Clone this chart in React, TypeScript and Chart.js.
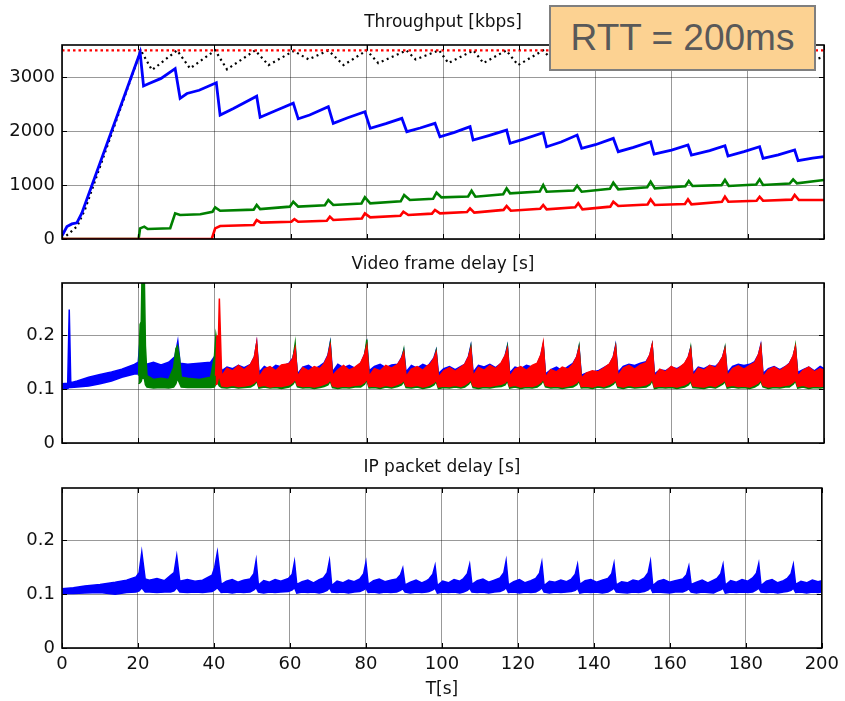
import React, { useEffect, useRef } from "react";
import { Chart, registerables } from "chart.js";

Chart.register(...registerables);

// ---------------- axes ----------------
const timeTicks = [0, 20, 40, 60, 80, 100, 120, 140, 160, 180, 200];
const throughputTicks = [0, 1000, 2000, 3000];
const delayTicks = [0, 0.1, 0.2];
const throughputMax = 3600;
const delayMax = 0.297;

// ---------------- Throughput [kbps] ----------------
const capT = [0, 200];
const capKbps = [3500, 3500];

const totalT = [0, 2, 4, 6, 20.7, 23.6, 30.2, 33.6, 40.2, 43.3, 50.7, 54.2, 60.8, 64.7, 69.9, 73.9, 80.0, 83.0, 90.4, 92.8, 99.0, 101.4, 108.0, 110.6, 116.6, 119.7, 126.3, 129.5, 135.5, 138.5, 145.0, 148.0, 154.8, 157.8, 164.5, 167.5, 174.0, 177.0, 183.3, 186.5, 192.5, 196.0, 200];
const totalKbps = [0, 110, 240, 540, 3500, 3135, 3500, 3166, 3500, 3148, 3500, 3227, 3490, 3333, 3500, 3227, 3500, 3265, 3500, 3333, 3500, 3265, 3500, 3265, 3500, 3227, 3500, 3250, 3500, 3280, 3500, 3250, 3500, 3280, 3500, 3260, 3500, 3280, 3500, 3260, 3500, 3300, 3380];

const blueT = [0, 1.3, 2.6, 3.9, 5.2, 20.5, 21.4, 22.7, 26, 29.7, 31.0, 32.8, 36, 40.5, 41.5, 45, 51.1, 52.0, 56, 60.7, 62, 65, 69.9, 71.2, 75, 79.5, 80.9, 85, 89.2, 90.5, 94, 97.9, 99.2, 103, 107.1, 107.9, 112, 116.7, 117.6, 121, 126.3, 127.2, 131, 135.2, 136.4, 140, 144.7, 146.0, 150, 154.5, 155.4, 160, 164.3, 165.2, 170, 174.0, 174.8, 179, 183.1, 184.0, 188, 192.3, 193.2, 197, 200];
const blueKbps = [60, 230, 280, 300, 480, 3460, 2840, 2880, 2980, 3160, 2610, 2700, 2760, 2900, 2300, 2420, 2650, 2260, 2380, 2520, 2230, 2300, 2455, 2146, 2250, 2362, 2053, 2140, 2239, 1991, 2060, 2146, 1898, 1980, 2084, 1836, 1920, 2022, 1775, 1850, 1972, 1712, 1800, 1929, 1682, 1750, 1868, 1620, 1700, 1805, 1577, 1650, 1744, 1558, 1640, 1731, 1540, 1620, 1712, 1497, 1560, 1651, 1453, 1500, 1527];

const greenT = [0, 20.1, 20.5, 21.6, 22.5, 28.4, 29.7, 31, 36.3, 39.5, 40.2, 41.5, 50.3, 51.1, 52, 59.8, 60.7, 62, 69, 69.9, 71.2, 78.6, 79.5, 80.9, 88.9, 89.8, 91.3, 97.4, 98.3, 99.6, 106.6, 107.5, 108.5, 115.8, 116.7, 117.6, 125.4, 126.3, 127.2, 134.3, 135.2, 136.4, 143.8, 144.7, 146, 153.6, 154.5, 155.6, 163.6, 164.5, 165.5, 173.1, 174, 175, 182.2, 183.1, 184, 191, 191.9, 192.9, 200];
const greenKbps = [0, 0, 198, 230, 185, 200, 476, 445, 460, 505, 588, 525, 545, 631, 555, 600, 692, 600, 625, 723, 631, 660, 773, 661, 700, 816, 723, 745, 859, 773, 790, 896, 785, 830, 940, 847, 880, 1002, 878, 900, 990, 878, 930, 1045, 921, 960, 1064, 940, 980, 1076, 983, 1000, 1095, 983, 1010, 1107, 1002, 1030, 1107, 1033, 1095];

const redT = [0, 39.3, 40.2, 41.5, 50.3, 51.1, 52.2, 60.2, 61, 62, 69.5, 70.3, 71.2, 78.7, 79.5, 80.9, 88.8, 89.6, 90.9, 97.1, 97.9, 99.2, 106.3, 107.1, 108.2, 115.9, 116.7, 117.8, 125.5, 126.3, 127.2, 134.7, 135.5, 136.6, 143.9, 144.7, 146, 153.7, 154.5, 155.6, 163.5, 164.3, 165.2, 173.2, 174, 174.9, 182.3, 183.1, 184, 191.5, 192.3, 193.4, 200];
const redKbps = [0, 0, 198, 241, 260, 352, 303, 320, 370, 321, 340, 414, 352, 380, 476, 402, 430, 507, 445, 470, 538, 476, 500, 569, 489, 540, 612, 525, 560, 631, 550, 590, 665, 550, 600, 692, 612, 640, 735, 631, 650, 735, 643, 690, 785, 692, 710, 785, 711, 730, 816, 723, 723];

// ---------------- delay panels: time points of the periodic part (41.9 s .. 200 s) ----------------
const cycleT = [
  41.9, 43.3, 44.8, 46.3, 47.8, 49.5, 50.5, 51.1,
  51.7, 53.1, 54.6, 56.1, 57.6, 59.6, 60.6, 61.2,
  61.8, 63.2, 64.7, 66.2, 67.7, 68.8, 69.8, 70.4,
  71.0, 72.4, 73.9, 75.4, 76.9, 78.4, 79.4, 80.0,
  80.6, 82.0, 83.5, 85.0, 86.5, 88.1, 89.1, 89.7,
  90.3, 91.7, 93.2, 94.7, 96.0, 96.6, 97.6, 98.2,
  98.8, 100.2, 101.7, 103.2, 104.7, 105.7, 106.7, 107.3,
  107.9, 109.3, 110.8, 112.3, 113.8, 115.3, 116.3, 116.9,
  117.5, 118.9, 120.4, 121.9, 123.4, 124.7, 125.7, 126.3,
  126.9, 128.3, 129.8, 131.3, 132.8, 134.1, 135.1, 135.7,
  136.3, 137.7, 139.2, 140.7, 142.2, 143.7, 144.7, 145.3,
  145.9, 147.3, 148.8, 150.3, 151.8, 153.3, 154.3, 154.9,
  155.5, 156.9, 158.4, 159.9, 161.4, 163.4, 164.4, 165.0,
  165.6, 167.0, 168.5, 170.0, 171.5, 172.4, 173.4, 174.0,
  174.6, 176.0, 177.5, 179.0, 180.5, 181.8, 182.8, 183.4,
  184.0, 185.4, 186.9, 188.4, 189.9, 190.9, 191.9, 192.5,
  193.1, 194.5, 196.0, 197.5, 199.0, 200.0,
];

// ---------------- Video frame delay [s] (band upper / lower edge) ----------------
const vdBlueEarlyT = [0, 1.5, 1.9, 2.3, 4, 7, 10, 13, 15.7, 19, 20.0, 20.4, 20.9, 22, 24, 26, 28, 29.6, 30.4, 31.0, 33, 36, 39, 40.5, 41.3];
const vdBlueEarlyHi = [.110, .111, .248, .112, .115, .122, .127, .132, .137, .146, .150, .183, .150, .146, .150, .145, .150, .160, .189, .148, .146, .148, .150, .165, .170];
const vdBlueEarlyLo = [.100, .101, .103, .103, .104, .106, .110, .115, .122, .128, .128, .130, .122, .118, .118, .118, .118, .120, .128, .118, .118, .118, .118, .120, .122];
const vdBlueHi = [
  .134, .141, .138, .144, .140, .146, .160, .186,
  .131, .142, .136, .144, .141, .148, .158, .178,
  .128, .141, .144, .137, .143, .149, .163, .186,
  .132, .146, .140, .144, .139, .148, .164, .185,
  .134, .142, .146, .140, .145, .146, .158, .172,
  .132, .144, .139, .146, .142, .148, .158, .172,
  .129, .138, .142, .136, .142, .146, .161, .180,
  .131, .144, .141, .146, .140, .148, .162, .180,
  .130, .141, .138, .144, .141, .146, .163, .183,
  .128, .136, .141, .134, .142, .148, .160, .178,
  .126, .130, .132, .134, .140, .146, .160, .181,
  .131, .142, .146, .144, .148, .151, .163, .182,
  .128, .136, .134, .141, .138, .146, .160, .176,
  .129, .141, .138, .144, .142, .148, .160, .176,
  .130, .142, .146, .144, .146, .151, .164, .182,
  .129, .138, .142, .136, .142, .148, .161, .177,
  .131, .136, .141, .134, .142, .138,
];
const vdBlueLo = [
  .118, .116, .117, .115, .117, .118, .122, .128,
  .117, .115, .118, .116, .117, .119, .123, .128,
  .116, .117, .115, .118, .116, .118, .122, .128,
  .118, .116, .117, .115, .118, .119, .124, .129,
  .117, .118, .116, .117, .115, .118, .122, .126,
  .116, .117, .118, .116, .117, .118, .122, .126,
  .117, .115, .117, .118, .116, .119, .123, .128,
  .118, .116, .117, .115, .117, .118, .123, .128,
  .116, .118, .116, .117, .115, .118, .122, .128,
  .117, .116, .118, .116, .117, .119, .123, .127,
  .115, .117, .116, .118, .116, .118, .122, .128,
  .118, .116, .117, .115, .118, .119, .124, .129,
  .116, .117, .115, .117, .116, .118, .122, .126,
  .117, .118, .116, .117, .115, .119, .123, .127,
  .118, .116, .117, .116, .118, .119, .124, .128,
  .116, .117, .118, .115, .117, .118, .122, .127,
  .117, .116, .118, .115, .117, .116,
];

const vdGreenEarlyT = [20.1, 20.5, 20.8, 21.0, 21.6, 21.9, 22.3, 24, 26, 28, 29.3, 29.9, 30.3, 30.8, 31.3, 33, 36, 39, 40.0, 40.4, 40.8, 41.3];
const vdGreenEarlyHi = [.125, .220, .225, .310, .310, .180, .125, .118, .120, .118, .140, .175, .180, .160, .122, .120, .118, .122, .160, .200, .180, .150];
const vdGreenEarlyLo = [.110, .112, .115, .120, .120, .108, .104, .102, .103, .102, .104, .110, .120, .112, .104, .103, .103, .103, .104, .110, .112, .106];
const vdGreenHi = [
  .118, .126, .122, .128, .125, .132, .150, .183,
  .117, .125, .128, .122, .127, .135, .155, .185,
  .116, .124, .127, .123, .128, .135, .158, .184,
  .118, .126, .122, .128, .124, .133, .160, .192,
  .117, .125, .129, .124, .127, .135, .150, .172,
  .116, .124, .121, .127, .126, .135, .152, .170,
  .115, .122, .126, .121, .127, .133, .156, .178,
  .117, .124, .128, .123, .126, .134, .157, .178,
  .116, .123, .120, .126, .124, .132, .155, .180,
  .115, .122, .126, .124, .128, .134, .153, .178,
  .117, .122, .124, .123, .126, .135, .156, .178,
  .116, .124, .128, .125, .128, .137, .158, .180,
  .115, .123, .121, .126, .125, .133, .152, .176,
  .117, .125, .122, .127, .126, .135, .154, .176,
  .116, .124, .128, .125, .128, .136, .158, .178,
  .116, .123, .126, .122, .127, .135, .156, .180,
  .117, .123, .126, .121, .125, .123,
];
const vdGreenLo = [
  .103, .102, .104, .102, .103, .104, .108, .115,
  .102, .104, .102, .103, .101, .104, .109, .116,
  .104, .102, .103, .101, .103, .105, .108, .115,
  .103, .101, .103, .102, .104, .104, .109, .117,
  .102, .103, .101, .104, .102, .105, .108, .114,
  .103, .102, .104, .101, .103, .104, .108, .114,
  .101, .103, .102, .104, .102, .104, .109, .115,
  .103, .101, .103, .102, .104, .105, .108, .115,
  .102, .104, .101, .103, .102, .104, .109, .116,
  .104, .102, .103, .101, .103, .104, .108, .115,
  .102, .103, .101, .104, .102, .105, .109, .115,
  .103, .101, .104, .102, .103, .104, .108, .116,
  .101, .103, .102, .103, .101, .104, .108, .114,
  .103, .102, .101, .104, .102, .105, .109, .114,
  .102, .104, .102, .103, .101, .104, .108, .115,
  .104, .101, .103, .102, .104, .104, .109, .115,
  .102, .104, .101, .103, .102, .103,
];

const vdRedEarlyT = [40.3, 40.7, 41.0, 41.3];
const vdRedEarlyHi = [.125, .200, .175, .268];
const vdRedEarlyLo = [.108, .110, .120, .125];
const vdRedHi = [
  .124, .139, .134, .144, .136, .146, .160, .186,
  .122, .137, .142, .134, .145, .147, .157, .175,
  .123, .140, .134, .142, .138, .147, .162, .180,
  .125, .136, .144, .135, .141, .149, .164, .180,
  .124, .138, .134, .144, .139, .146, .157, .168,
  .123, .137, .142, .135, .144, .146, .157, .168,
  .122, .134, .140, .133, .141, .146, .160, .175,
  .124, .140, .135, .144, .138, .149, .162, .175,
  .123, .137, .142, .135, .144, .148, .164, .186,
  .122, .136, .132, .141, .137, .146, .160, .175,
  .120, .130, .134, .132, .139, .147, .160, .178,
  .124, .139, .144, .137, .145, .149, .164, .182,
  .122, .137, .132, .142, .136, .148, .160, .174,
  .123, .139, .135, .144, .139, .148, .160, .174,
  .124, .138, .143, .137, .144, .149, .164, .180,
  .122, .136, .141, .134, .142, .147, .162, .178,
  .124, .135, .141, .132, .138, .135,
];
const vdRedLo = [
  .106, .105, .107, .105, .106, .108, .112, .118,
  .105, .107, .104, .106, .105, .108, .113, .119,
  .107, .105, .106, .104, .106, .109, .112, .118,
  .106, .104, .106, .105, .107, .108, .113, .119,
  .105, .106, .104, .107, .105, .109, .112, .117,
  .106, .105, .107, .104, .106, .108, .112, .117,
  .104, .106, .105, .107, .105, .108, .113, .118,
  .106, .104, .106, .105, .107, .109, .112, .118,
  .105, .107, .104, .106, .105, .108, .113, .119,
  .107, .105, .106, .104, .106, .108, .112, .118,
  .105, .106, .104, .107, .105, .109, .113, .118,
  .106, .104, .107, .105, .106, .108, .112, .119,
  .104, .106, .105, .106, .104, .108, .112, .117,
  .106, .105, .104, .107, .105, .109, .113, .117,
  .105, .107, .105, .106, .104, .108, .112, .118,
  .107, .104, .106, .105, .107, .108, .113, .118,
  .105, .107, .104, .106, .105, .106,
];

// ---------------- IP packet delay [s] (band upper / lower edge) ----------------
const ipEarlyT = [0, 3, 6, 10, 14, 17, 19.5, 20.3, 21.0, 21.9, 23, 25, 27, 28.6, 29.5, 30.2, 31.0, 33, 35, 37, 39.5, 40.2, 40.9];
const ipEarlyHi = [.110, .112, .115, .118, .122, .126, .132, .140, .178, .128, .126, .129, .125, .135, .140, .171, .124, .127, .124, .126, .135, .150, .178];
const ipEarlyLo = [.101, .101, .102, .103, .100, .103, .104, .106, .112, .104, .104, .103, .104, .104, .106, .112, .104, .103, .104, .103, .105, .108, .112];
const ipHi = [
  .118, .124, .127, .122, .126, .128, .138, .163,
  .117, .125, .122, .127, .124, .129, .137, .160,
  .118, .123, .126, .121, .127, .130, .140, .162,
  .116, .124, .121, .126, .123, .128, .138, .159,
  .118, .125, .128, .123, .126, .128, .136, .148,
  .117, .122, .126, .121, .125, .128, .137, .153,
  .116, .124, .121, .127, .124, .129, .138, .155,
  .118, .125, .128, .122, .126, .130, .140, .162,
  .117, .123, .127, .121, .125, .129, .139, .159,
  .116, .124, .122, .126, .123, .128, .137, .155,
  .118, .125, .127, .122, .126, .129, .138, .157,
  .117, .123, .121, .126, .124, .130, .140, .161,
  .116, .124, .127, .122, .125, .128, .136, .152,
  .118, .122, .126, .121, .126, .129, .138, .155,
  .117, .125, .122, .127, .124, .130, .139, .157,
  .116, .124, .127, .121, .125, .129, .138, .155,
  .118, .124, .121, .126, .123, .125,
];
const ipLo = [
  .103, .104, .102, .104, .103, .104, .108, .112,
  .104, .102, .104, .103, .104, .105, .108, .112,
  .102, .104, .103, .104, .102, .104, .107, .112,
  .104, .103, .104, .102, .104, .105, .108, .111,
  .103, .104, .102, .104, .103, .104, .107, .110,
  .104, .102, .104, .103, .104, .105, .108, .111,
  .102, .104, .103, .104, .102, .104, .107, .111,
  .104, .103, .104, .102, .104, .105, .108, .112,
  .103, .104, .102, .104, .103, .104, .108, .112,
  .104, .102, .104, .103, .104, .105, .107, .111,
  .102, .104, .103, .104, .102, .104, .108, .111,
  .104, .103, .102, .104, .103, .105, .108, .112,
  .103, .104, .103, .102, .104, .104, .107, .110,
  .104, .102, .104, .103, .102, .105, .108, .111,
  .102, .104, .103, .104, .103, .104, .108, .111,
  .104, .103, .104, .102, .104, .105, .107, .111,
  .103, .104, .102, .104, .103, .104,
];

// ---------------- styling ----------------
const FONT = "DejaVu Sans";
const TICK_FS = 18;
const TITLE_FS = 17;
const TXT = "#111";
const GRID = "rgba(0,0,0,0.4)";
const BLUE = "#0000ff";
const GREEN = "#008000";
const RED = "#ff0000";

function zip(xs: number[], ys: number[]) {
  return xs.map((x, i) => ({ x, y: ys[i] }));
}

const boxPlugin = {
  id: "matlabBox",
  afterDraw(chart: any) {
    const { ctx, chartArea: a, scales } = chart;
    ctx.save();
    ctx.strokeStyle = "#000";
    ctx.lineWidth = 1;
    const L = 5;
    ctx.beginPath();
    scales.x.ticks.forEach((t: any) => {
      const p = Math.round(scales.x.getPixelForValue(t.value)) + 0.5;
      ctx.moveTo(p, a.bottom);
      ctx.lineTo(p, a.bottom - L);
      ctx.moveTo(p, a.top);
      ctx.lineTo(p, a.top + L);
    });
    scales.y.ticks.forEach((t: any) => {
      const p = Math.round(scales.y.getPixelForValue(t.value)) + 0.5;
      ctx.moveTo(a.left, p);
      ctx.lineTo(a.left + L, p);
      ctx.moveTo(a.right, p);
      ctx.lineTo(a.right - L, p);
    });
    ctx.stroke();
    ctx.lineWidth = 1.6;
    ctx.strokeRect(a.left, a.top, a.right - a.left, a.bottom - a.top);
    ctx.restore();
  },
};

function makeOptions(p: {
  title: string;
  titleTop: number;
  titleBottom: number;
  yMax: number;
  yTicks: number[];
  showX: boolean;
  xHeight: number;
  padBottom: number;
}) {
  const tickFont = { family: FONT, size: TICK_FS, weight: "normal" as const };
  const titleFont = { family: FONT, size: TITLE_FS, weight: "normal" as const };
  return {
    responsive: false,
    maintainAspectRatio: false,
    animation: false as const,
    devicePixelRatio: 1,
    events: [] as any[],
    layout: { padding: { left: 0, right: 21, top: 0, bottom: p.padBottom } },
    elements: { point: { radius: 0 }, line: { tension: 0 } },
    plugins: {
      legend: { display: false },
      tooltip: { enabled: false },
      title: {
        display: true,
        text: p.title,
        fullSize: false,
        color: TXT,
        font: titleFont,
        padding: { top: p.titleTop, bottom: p.titleBottom },
      },
    },
    scales: {
      x: {
        type: "linear" as const,
        min: 0,
        max: 200,
        afterBuildTicks: (s: any) => {
          s.ticks = timeTicks.map((v) => ({ value: v }));
        },
        afterFit: (s: any) => {
          s.height = p.xHeight;
        },
        ticks: {
          display: p.showX,
          padding: 6,
          color: TXT,
          font: tickFont,
          maxRotation: 0,
          autoSkip: false,
          callback: (v: any) => String(v),
        },
        grid: { color: GRID, lineWidth: 1, drawTicks: false },
        border: { display: false },
        title: {
          display: p.showX,
          text: "T[s]",
          color: TXT,
          font: titleFont,
          padding: { top: 0, bottom: 0.8 },
        },
      },
      y: {
        type: "linear" as const,
        min: 0,
        max: p.yMax,
        afterBuildTicks: (s: any) => {
          s.ticks = p.yTicks.map((v) => ({ value: v }));
        },
        afterFit: (s: any) => {
          s.width = 62;
        },
        ticks: {
          padding: 7,
          color: TXT,
          font: tickFont,
          callback: (v: any) => String(v),
        },
        grid: { color: GRID, lineWidth: 1, drawTicks: false },
        border: { display: false },
      },
    },
  };
}

function band(xs: number[], lo: number[], hi: number[], color: string, order: number) {
  return [
    {
      data: zip(xs, lo),
      borderColor: color,
      backgroundColor: color,
      borderWidth: 1.5,
      fill: false,
      order,
    },
    {
      data: zip(xs, hi),
      borderColor: color,
      backgroundColor: color,
      borderWidth: 1.5,
      fill: "-1",
      order,
    },
  ];
}

export default function App() {
  const c1 = useRef<HTMLCanvasElement>(null);
  const c2 = useRef<HTMLCanvasElement>(null);
  const c3 = useRef<HTMLCanvasElement>(null);

  useEffect(() => {
    const charts: Chart[] = [];

    charts.push(
      new Chart(c1.current as HTMLCanvasElement, {
        type: "line",
        data: {
          datasets: [
            { data: zip(blueT, blueKbps), borderColor: BLUE, borderWidth: 2.8, fill: false, order: 1 },
            { data: zip(redT, redKbps), borderColor: RED, borderWidth: 2.6, fill: false, order: 2 },
            { data: zip(greenT, greenKbps), borderColor: GREEN, borderWidth: 2.6, fill: false, order: 3 },
            { data: zip(capT, capKbps), borderColor: RED, borderWidth: 2.4, borderDash: [2.5, 3], fill: false, order: 4 },
            { data: zip(totalT, totalKbps), borderColor: "#000", borderWidth: 2.2, borderDash: [2, 3.5], fill: false, order: 5 },
          ] as any,
        },
        options: makeOptions({
          title: "Throughput [kbps]",
          titleTop: 12.3,
          titleBottom: 12.3,
          yMax: throughputMax,
          yTicks: throughputTicks,
          showX: false,
          xHeight: 0,
          padBottom: 23,
        }) as any,
        plugins: [boxPlugin],
      })
    );

    charts.push(
      new Chart(c2.current as HTMLCanvasElement, {
        type: "line",
        data: {
          datasets: [
            ...band(vdBlueEarlyT.concat(cycleT), vdBlueEarlyLo.concat(vdBlueLo), vdBlueEarlyHi.concat(vdBlueHi), BLUE, 3),
            ...band(vdGreenEarlyT.concat(cycleT), vdGreenEarlyLo.concat(vdGreenLo), vdGreenEarlyHi.concat(vdGreenHi), GREEN, 2),
            ...band(vdRedEarlyT.concat(cycleT), vdRedEarlyLo.concat(vdRedLo), vdRedEarlyHi.concat(vdRedHi), RED, 1),
          ] as any,
        },
        options: makeOptions({
          title: "Video frame delay [s]",
          titleTop: 14.8,
          titleBottom: 7.8,
          yMax: delayMax,
          yTicks: delayTicks,
          showX: false,
          xHeight: 0,
          padBottom: 19,
        }) as any,
        plugins: [boxPlugin],
      })
    );

    charts.push(
      new Chart(c3.current as HTMLCanvasElement, {
        type: "line",
        data: {
          datasets: [
            ...band(ipEarlyT.concat(cycleT), ipEarlyLo.concat(ipLo), ipEarlyHi.concat(ipHi), BLUE, 1),
          ] as any,
        },
        options: makeOptions({
          title: "IP packet delay [s]",
          titleTop: 13.8,
          titleBottom: 9.8,
          yMax: delayMax,
          yTicks: delayTicks,
          showX: true,
          xHeight: 53,
          padBottom: 0,
        }) as any,
        plugins: [boxPlugin],
      })
    );

    return () => charts.forEach((c) => c.destroy());
  }, []);

  const cv = (top: number, h: number): React.CSSProperties => ({
    position: "absolute",
    left: 0,
    top,
    width: 845,
    height: h,
  });

  return (
    <div
      style={{
        position: "fixed",
        left: 0,
        top: 0,
        width: 845,
        height: 701,
        background: "#fff",
        overflow: "hidden",
      }}
    >
      <canvas ref={c1} width={845} height={262} style={cv(0, 262)} />
      <canvas ref={c2} width={845} height={222} style={cv(240, 222)} />
      <canvas ref={c3} width={845} height={257} style={cv(444, 257)} />
      <div
        style={{
          position: "absolute",
          left: 549,
          top: 5,
          width: 267,
          height: 66,
          boxSizing: "border-box",
          background: "#fcd292",
          border: "2px solid #7f7f7f",
          display: "flex",
          alignItems: "center",
          justifyContent: "center",
          fontFamily: "'Liberation Sans', Arial, sans-serif",
          fontSize: 37,
          color: "#595959",
          whiteSpace: "nowrap",
        }}
      >
        RTT = 200ms
      </div>
    </div>
  );
}
